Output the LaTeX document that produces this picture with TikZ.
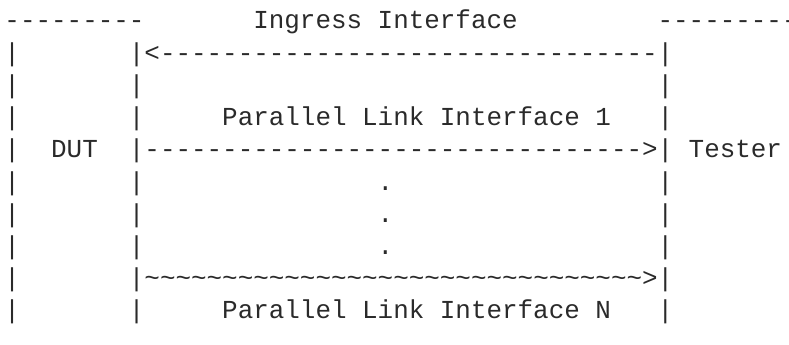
\documentclass[tikz,border=0pt]{standalone}
\usepackage{fontspec}
\setmonofont{Liberation Mono}
\definecolor{ink}{HTML}{2A2A2A}
\tikzset{
  cell/.style={inner sep=0pt, outer sep=0pt, anchor=base west, text=ink,
    font=\ttfamily\fontsize{25.92}{32.2}\selectfont}
}
\begin{document}
\begin{tikzpicture}[x=1pt,y=1pt]
\useasboundingbox (0,0) rectangle (789,-345);
\clip (0,0) rectangle (789,-345);
% row 0
\node[cell] (dutTop) at ({4.5+15.55*0},{-29-32.2*0}) {---------};
\node[cell] (ingress) at ({4.5+15.55*16},{-29-32.2*0}) {Ingress Interface};
\node[cell] (testerTop) at ({4.5+15.55*42},{-29-32.2*0}) {---------};
% vertical bars
\foreach \c in {0,8,42}{
  \foreach \r in {1,...,9}{
    \node[cell] (bar-\c-\r) at ({4.5+15.55*\c},{-29-32.2*\r}) {|};
  }
}
% arrows and labels
\node[cell] (ingressArrow) at ({4.5+15.55*9},{-29-32.2*1}) {<--------------------------------};
\node[cell] (link1) at ({4.5+15.55*14},{-29-32.2*3}) {Parallel Link Interface 1};
\node[cell] (dut) at ({4.5+15.55*3},{-29-32.2*4}) {DUT};
\node[cell] (link1Arrow) at ({4.5+15.55*9},{-29-32.2*4}) {-------------------------------->};
\node[cell] (tester) at ({4.5+15.55*44},{-29-32.2*4}) {Tester};
\foreach \r in {5,6,7}{
  \node[cell] (dot-\r) at ({4.5+15.55*24},{-29-32.2*\r}) {.};
}
\node[cell] (linkNArrow) at ({4.5+15.55*9},{-29-32.2*8}) {\textasciitilde\textasciitilde\textasciitilde\textasciitilde\textasciitilde\textasciitilde\textasciitilde\textasciitilde\textasciitilde\textasciitilde\textasciitilde\textasciitilde\textasciitilde\textasciitilde\textasciitilde\textasciitilde\textasciitilde\textasciitilde\textasciitilde\textasciitilde\textasciitilde\textasciitilde\textasciitilde\textasciitilde\textasciitilde\textasciitilde\textasciitilde\textasciitilde\textasciitilde\textasciitilde\textasciitilde\textasciitilde>};
\node[cell] (linkN) at ({4.5+15.55*14},{-29-32.2*9}) {Parallel Link Interface N};
\end{tikzpicture}
\end{document}
